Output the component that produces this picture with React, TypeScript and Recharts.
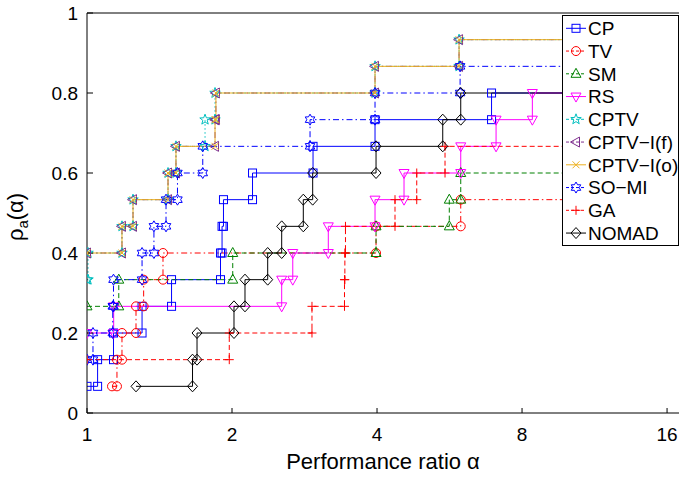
import React from "react";
import { LineChart, Line, XAxis, YAxis, Legend } from "recharts";

const NP = 15; // number of test problems
const XMAX = 16.94;
const FONT = '"Liberation Sans", Arial, Helvetica, sans-serif';

const xTicks = [1, 2, 4, 8, 16];
const yTicks = [0, 0.2, 0.4, 0.6, 0.8, 1];

// sorted performance ratios of every solver (one entry per solved problem)
const cpRatios = [1, 1.052, 1.135, 1.301, 1.498, 1.893, 1.907, 1.92, 2.206, 2.946, 3.962, 6.915];
const tvRatios = [1.127, 1.154, 1.182, 1.264, 1.311, 1.438, 3.981, 5.968];
const smRatios = [1, 1, 1, 1, 1.164, 2.007, 3.981, 5.65, 5.968];
const rsRatios = [1, 1, 1, 1.136, 2.536, 2.674, 3.169, 3.962, 4.551, 5.968, 7.066, 8.404];
const cptvRatios = [1, 1, 1, 1, 1, 1.005, 1.182, 1.246, 1.473, 1.53, 1.758, 1.844, 3.962, 5.92];
const cptvIfRatios = [1, 1, 1, 1, 1, 1, 1.182, 1.246, 1.473, 1.53, 1.844, 1.852, 3.962, 5.92];
const cptvIoRatios = [1, 1, 1, 1, 1, 1, 1.182, 1.246, 1.473, 1.53, 1.844, 1.852, 3.962, 5.92];
const somiRatios = [1, 1, 1.029, 1.131, 1.135, 1.301, 1.377, 1.459, 1.541, 1.739, 2.904, 3.962, 5.95];
const gaRatios = [1, 1, 1.974, 2.931, 3.424, 3.43, 3.44, 4.359, 4.836, 5.536];
const nomadRatios = [1.264, 1.656, 1.692, 2.019, 2.128, 2.372, 2.536, 2.812, 2.941, 3.981, 5.476, 5.968];

const DASHED = "5 3";
const DASHDOT = "6 3 1.5 3";
const DOTTED = "1.5 2.5";

const series = [
  { name: "CP", ratios: cpRatios, color: "#0000ff", dash: undefined, marker: "square" },
  { name: "TV", ratios: tvRatios, color: "#ff0000", dash: DASHDOT, marker: "circle" },
  { name: "SM", ratios: smRatios, color: "#008000", dash: DASHED, marker: "triUp" },
  { name: "RS", ratios: rsRatios, color: "#ff00ff", dash: undefined, marker: "triDown" },
  { name: "CPTV", ratios: cptvRatios, color: "#00bfbf", dash: DOTTED, marker: "pentagram" },
  { name: "CPTV\u2212I(f)", ratios: cptvIfRatios, color: "#7e2f8e", dash: DASHDOT, marker: "triLeft" },
  { name: "CPTV\u2212I(o)", ratios: cptvIoRatios, color: "#edb120", dash: undefined, marker: "cross" },
  { name: "SO\u2212MI", ratios: somiRatios, color: "#0000ff", dash: DASHDOT, marker: "hexagram" },
  { name: "GA", ratios: gaRatios, color: "#ff0000", dash: DASHED, marker: "plus" },
  { name: "NOMAD", ratios: nomadRatios, color: "#000000", dash: undefined, marker: "diamond" },
];

// corner points of the stairs, like matlab's stairs() output
function stairs(ratios: number[]) {
  const pts: { x: number; y: number; end?: boolean }[] = [];
  ratios.forEach((r, i) => {
    const last = i === ratios.length - 1;
    const next = last ? XMAX : ratios[i + 1];
    if (next === 1) return; // ties at alpha = 1: only the top level shows
    const y = (i + 1) / NP;
    pts.push({ x: r, y });
    pts.push({ x: next, y, end: last });
  });
  return pts;
}

function star(cx: number, cy: number, n: number, R: number, r: number) {
  const p: string[] = [];
  for (let i = 0; i < 2 * n; i++) {
    const a = -Math.PI / 2 + (i * Math.PI) / n;
    const d = i % 2 === 0 ? R : r;
    p.push(`${cx + d * Math.cos(a)},${cy + d * Math.sin(a)}`);
  }
  return p.join(" ");
}

function marker(kind: string, cx: number, cy: number, color: string) {
  const st = { fill: "none", stroke: color, strokeWidth: 1 };
  switch (kind) {
    case "square":
      return <rect x={cx - 4} y={cy - 4} width={8} height={8} {...st} />;
    case "circle":
      return <circle cx={cx} cy={cy} r={4.5} {...st} />;
    case "triUp":
      return <polygon points={`${cx},${cy - 5.5} ${cx + 5},${cy + 3.5} ${cx - 5},${cy + 3.5}`} {...st} />;
    case "triDown":
      return <polygon points={`${cx},${cy + 5.5} ${cx + 5},${cy - 3.5} ${cx - 5},${cy - 3.5}`} {...st} />;
    case "triLeft":
      return <polygon points={`${cx - 5.5},${cy} ${cx + 3.5},${cy - 5} ${cx + 3.5},${cy + 5}`} {...st} />;
    case "pentagram":
      return <polygon points={star(cx, cy, 5, 5.5, 2.3)} {...st} />;
    case "hexagram":
      return <polygon points={star(cx, cy, 6, 5.5, 3.2)} {...st} />;
    case "cross":
      return (
        <path d={`M${cx - 3.5},${cy - 3.5}L${cx + 3.5},${cy + 3.5}M${cx - 3.5},${cy + 3.5}L${cx + 3.5},${cy - 3.5}`} {...st} />
      );
    case "plus":
      return <path d={`M${cx - 4.5},${cy}L${cx + 4.5},${cy}M${cx},${cy - 4.5}L${cx},${cy + 4.5}`} {...st} />;
    default:
      return <polygon points={`${cx},${cy - 5.5} ${cx + 5},${cy} ${cx},${cy + 5.5} ${cx - 5},${cy}`} {...st} />;
  }
}

const makeDot = (kind: string, color: string) => (props: any) => {
  const { cx, cy, payload, index } = props;
  if (payload?.end || cx == null || cy == null) return <g key={index} />;
  return <g key={index}>{marker(kind, cx, cy, color)}</g>;
};

const YLabel = () => (
  <text transform="translate(23,217) rotate(-90)" textAnchor="middle" fontSize={22} fontFamily={FONT} fill="#000">
    ρ<tspan dy={5} fontSize={15}>a</tspan>
    <tspan dy={-5}>(α)</tspan>
  </text>
);

const LegendBox = () => (
  <svg width={117} height={231} style={{ display: "block" }}>
    <rect x={0.5} y={0.5} width={116} height={230} fill="#fff" stroke="#000" />
    {series.map((s, i) => {
      const cy = 13.3 + i * 22.75;
      return (
        <g key={s.name}>
          <line x1={4} x2={24} y1={cy} y2={cy} stroke={s.color} strokeDasharray={s.dash ? "3 2" : undefined} />
          {marker(s.marker, 14, cy, s.color)}
          <text x={26} y={cy} dy="0.36em" fontSize={19} fontFamily={FONT} fill="#000">
            {s.name}
          </text>
        </g>
      );
    })}
  </svg>
);

const tickStyle = { fill: "#000", fontSize: 19, fontFamily: FONT };

export default function App() {
  return (
    <div style={{ position: "absolute", left: 0, top: 0, background: "#fff" }}>
      <style>{"html,body{overflow:hidden;background:#fff}"}</style>
      <LineChart width={679} height={478} margin={{ top: 12, right: 0, bottom: 0, left: 0 }}>
        <XAxis
          dataKey="x"
          type="number"
          scale="log"
          domain={[1, XMAX]}
          allowDataOverflow
          ticks={xTicks}
          interval={0}
          tickSize={-5}
          tickMargin={20}
          height={65}
          axisLine={{ stroke: "#000" }}
          tickLine={{ stroke: "#000" }}
          tick={tickStyle}
          label={{
            value: "Performance ratio α",
            position: "insideBottom",
            offset: 9,
            fill: "#000",
            fontSize: 22,
            fontFamily: FONT,
          }}
        />
        <XAxis
          xAxisId="top"
          orientation="top"
          type="number"
          scale="log"
          domain={[1, XMAX]}
          allowDataOverflow
          ticks={[2, 4, 8, 16]}
          interval={0}
          tickSize={-5}
          tick={false}
          height={1}
          axisLine={{ stroke: "#000" }}
          tickLine={{ stroke: "#000" }}
        />
        <YAxis
          type="number"
          domain={[0, 1]}
          ticks={yTicks}
          interval={0}
          width={87}
          tickSize={-6}
          tickMargin={15}
          tickFormatter={(v) => String(v)}
          axisLine={{ stroke: "#000" }}
          tickLine={{ stroke: "#000" }}
          tick={tickStyle}
          label={<YLabel />}
        />
        {series.map((s) => (
          <Line
            key={s.name}
            name={s.name}
            data={stairs(s.ratios)}
            dataKey="y"
            type="linear"
            stroke={s.color}
            strokeWidth={1}
            strokeDasharray={s.dash}
            dot={makeDot(s.marker, s.color)}
            activeDot={false}
            isAnimationActive={false}
          />
        ))}
        <Legend
          layout="horizontal"
          verticalAlign="middle"
          align="center"
          wrapperStyle={{ left: 562, top: 15, width: 117, height: 231 }}
          content={() => <LegendBox />}
        />
      </LineChart>
    </div>
  );
}
